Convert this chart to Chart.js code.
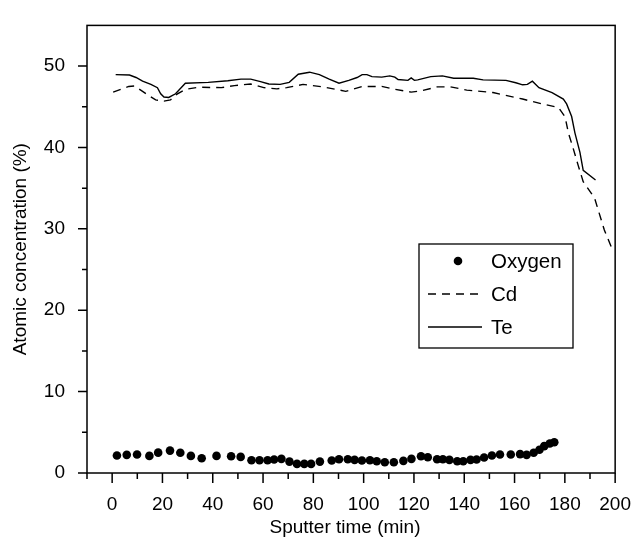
<!DOCTYPE html>
<html>
<head>
<meta charset="utf-8">
<script src="https://cdn.jsdelivr.net/npm/chart.js@4"></script>
<style>
    html, body { margin: 0; padding: 0; background: #fff; }
    #wrap { width: 643px; height: 541px; }
</style>
</head>
<body>
<div id="wrap"><canvas id="depthChart" width="643" height="541"></canvas></div>
<script>
// Sputter depth profile data
const teTime = [1.4, 6.9, 9.5, 12.1, 15.4, 18.0, 19.3, 20.6, 22.5, 25.2, 29.1, 38.2, 46.0, 51.2, 55.1, 59.0, 62.3, 66.8, 70.4, 74.0, 78.5, 82.4, 86.3, 90.2, 94.1, 97.4, 99.4, 101.3, 103.3, 107.2, 110.4, 112.4, 113.7, 117.6, 118.9, 120.2, 121.5, 126.7, 131.3, 135.8, 143.6, 147.5, 156.6, 160.5, 163.2, 165.1, 167.1, 169.7, 174.9, 179.4, 180.7, 182.7, 184.0, 186.0, 187.3, 192.2];
const teValues = [48.95, 48.9, 48.6, 48.15, 47.75, 47.35, 46.6, 46.2, 46.15, 46.6, 47.9, 48.0, 48.2, 48.4, 48.4, 48.1, 47.8, 47.75, 48.0, 49.0, 49.25, 48.95, 48.4, 47.9, 48.25, 48.6, 48.95, 48.95, 48.7, 48.65, 48.8, 48.65, 48.35, 48.25, 48.55, 48.25, 48.3, 48.7, 48.8, 48.5, 48.5, 48.3, 48.25, 47.95, 47.7, 47.75, 48.15, 47.35, 46.75, 45.95, 45.35, 43.8, 41.8, 39.4, 37.2, 36.0];

const cdTime = [0.4, 6.6, 8.9, 12.1, 14.7, 17.3, 20.6, 23.2, 25.8, 29.1, 34.3, 43.4, 48.6, 55.1, 60.3, 65.5, 69.4, 75.9, 83.7, 92.9, 99.4, 107.2, 112.4, 118.9, 122.8, 129.3, 134.5, 141.0, 151.4, 163.2, 171.0, 177.5, 180.1, 181.4, 183.4, 185.3, 187.3, 191.8, 195.7, 198.9];
const cdValues = [46.8, 47.5, 47.55, 46.9, 46.35, 45.85, 45.7, 45.85, 46.55, 47.15, 47.4, 47.35, 47.6, 47.8, 47.35, 47.2, 47.35, 47.75, 47.45, 46.9, 47.5, 47.5, 47.15, 46.8, 46.95, 47.45, 47.45, 47.05, 46.75, 45.95, 45.35, 44.9, 43.75, 41.8, 39.8, 37.8, 35.8, 33.8, 29.85, 27.45];

const oxygenTime = [1.9, 5.8, 9.9, 14.8, 18.3, 23.0, 27.1, 31.3, 35.6, 41.5, 47.3, 51.1, 55.4, 58.6, 61.8, 64.4, 67.3, 70.5, 73.5, 76.4, 79.1, 82.6, 87.3, 90.2, 93.7, 96.4, 99.3, 102.5, 105.2, 108.4, 112.0, 115.8, 119.0, 122.8, 125.5, 129.2, 131.5, 134.1, 137.2, 139.6, 142.5, 144.9, 147.9, 151.0, 154.2, 158.5, 162.2, 164.8, 167.6, 169.9, 171.8, 174.0, 175.8];
const oxygenValues = [2.15, 2.23, 2.27, 2.1, 2.5, 2.75, 2.48, 2.1, 1.82, 2.1, 2.06, 1.98, 1.57, 1.57, 1.57, 1.65, 1.74, 1.4, 1.12, 1.12, 1.12, 1.4, 1.53, 1.69, 1.69, 1.61, 1.53, 1.57, 1.45, 1.32, 1.32, 1.49, 1.74, 2.06, 1.94, 1.69, 1.69, 1.61, 1.45, 1.45, 1.61, 1.65, 1.9, 2.15, 2.27, 2.27, 2.32, 2.23, 2.48, 2.86, 3.3, 3.62, 3.77];

const xMin = -10, xMax = 200;
const yMin = 0, yMax = 55;
const xTitle = 'Sputter time (min)';
const FONT = "'Liberation Sans', Arial, sans-serif";

function toPoints(xs, ys) {
    return xs.map((x, i) => ({ x: x, y: ys[i] }));
}

// Frame, minor/major tick marks (outside), x title and the boxed legend
const framePlugin = {
    id: 'frame',
    afterDraw(chart) {
        const ctx = chart.ctx;
        const area = chart.chartArea;
        const xs = chart.scales.x;
        const ys = chart.scales.y;
        ctx.save();
        ctx.strokeStyle = '#000';
        ctx.lineWidth = 1.5;
        ctx.strokeRect(area.left, area.top, area.right - area.left, area.bottom - area.top);

        ctx.beginPath();
        for (let v = xMin; v <= xMax; v += 10) {
            const px = xs.getPixelForValue(v);
            const len = (v % 20 === 0) ? 10 : 6;
            ctx.moveTo(px, area.bottom);
            ctx.lineTo(px, area.bottom + len);
        }
        for (let v = yMin; v <= 50; v += 5) {
            const py = ys.getPixelForValue(v);
            const len = (v % 10 === 0) ? 9 : 5;
            ctx.moveTo(area.left - len, py);
            ctx.lineTo(area.left, py);
        }
        ctx.stroke();

        // x axis title sits a little left of the axis centre in the original
        ctx.fillStyle = '#000';
        ctx.font = '19px ' + FONT;
        ctx.textAlign = 'center';
        ctx.textBaseline = 'middle';
        ctx.fillText(xTitle, 345, 528);

        // legend box
        const box = { left: 419, top: 244, right: 573, bottom: 348 };
        ctx.lineWidth = 1.3;
        ctx.strokeRect(box.left, box.top, box.right - box.left, box.bottom - box.top);
        const rows = [261, 294, 327];
        ctx.font = '20.5px ' + FONT;
        ctx.textAlign = 'left';
        chart.data.datasets.forEach((ds, i) => {
            const y = rows[i];
            if (ds.showLine === false) {
                ctx.beginPath();
                ctx.arc(458, y, ds.pointRadius, 0, Math.PI * 2);
                ctx.fill();
            } else {
                ctx.beginPath();
                ctx.lineWidth = ds.borderWidth;
                ctx.setLineDash(ds.borderDash || []);
                ctx.moveTo(428, y);
                ctx.lineTo(482, y);
                ctx.stroke();
                ctx.setLineDash([]);
            }
            ctx.fillText(ds.label, 491, y + 1);
        });
        ctx.restore();
    }
};

new Chart(document.getElementById('depthChart'), {
    type: 'scatter',
    data: {
        datasets: [
            {
                label: 'Oxygen',
                data: toPoints(oxygenTime, oxygenValues),
                showLine: false,
                pointRadius: 4.3,
                pointBackgroundColor: '#000',
                pointBorderWidth: 0
            },
            {
                label: 'Cd',
                data: toPoints(cdTime, cdValues),
                showLine: true,
                borderColor: '#000',
                borderWidth: 1.4,
                borderDash: [8, 6],
                pointRadius: 0,
                tension: 0
            },
            {
                label: 'Te',
                data: toPoints(teTime, teValues),
                showLine: true,
                borderColor: '#000',
                borderWidth: 1.4,
                pointRadius: 0,
                tension: 0
            }
        ]
    },
    options: {
        responsive: false,
        animation: false,
        layout: {
            padding: { top: 13, right: 19, left: 0, bottom: 0 }
        },
        scales: {
            x: {
                type: 'linear',
                min: xMin,
                max: xMax,
                afterFit: function(scale) { scale.height = 68; },
                grid: { display: false },
                border: { display: false },
                ticks: {
                    stepSize: 20,
                    includeBounds: false,
                    padding: 12,
                    color: '#000',
                    font: { family: FONT, size: 19 },
                    maxRotation: 0,
                    callback: function(value) { return value < 0 ? '' : value; }
                }
            },
            y: {
                type: 'linear',
                min: yMin,
                max: yMax,
                afterFit: function(scale) { scale.width = 87; },
                grid: { display: false },
                border: { display: false },
                ticks: {
                    stepSize: 10,
                    includeBounds: false,
                    padding: 14,
                    color: '#000',
                    font: { family: FONT, size: 19 }
                },
                title: {
                    display: true,
                    text: 'Atomic concentration (%)',
                    color: '#000',
                    padding: { top: 9, bottom: 0 },
                    font: { family: FONT, size: 19 }
                }
            }
        },
        plugins: {
            legend: { display: false },
            tooltip: { enabled: false }
        }
    },
    plugins: [framePlugin]
});
</script>
</body>
</html>
